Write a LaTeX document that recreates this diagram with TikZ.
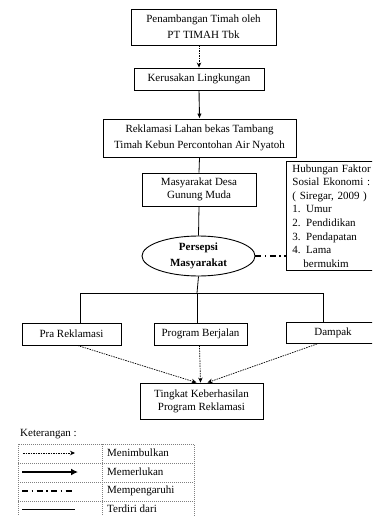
\documentclass[tikz,border=0pt]{standalone}
\usepackage{fontspec}
\setmainfont{Liberation Serif}
\usetikzlibrary{shapes.geometric,arrows.meta}

\tikzset{
	kotak/.style={draw, line width=0.9pt, align=center, inner sep=1pt, font=\fontsize{11}{14}\selectfont},
	timbul/.style={line width=0.7pt, dash pattern=on 1.5pt off 1pt, -{Stealth[length=5pt,width=4.5pt]}},
	perlu/.style={line width=0.9pt, -{Latex[length=5pt,width=4.5pt]}},
	pengaruh/.style={line width=1.5pt, dash pattern=on 6pt off 3.5pt on 1.5pt off 3.5pt},
	terdiri/.style={line width=0.8pt},
	garistabel/.style={gray, line width=0.6pt, dash pattern=on 1pt off 1pt}
}

\begin{document}
\begin{tikzpicture}[x=1pt, y=-1pt]
	\useasboundingbox (0,0) rectangle (372,516);
	\clip (0,0) rectangle (372,516);

	\node[kotak, minimum width=145pt, minimum height=36pt, font=\fontsize{11}{16}\selectfont] (tambang) at (203.5,27) {Penambangan Timah oleh\\PT TIMAH Tbk};
	\node[kotak, minimum width=130pt, minimum height=22pt] (rusak) at (199,79) {Kerusakan Lingkungan};
	\node[kotak, minimum width=193pt, minimum height=38pt, font=\fontsize{11}{16}\selectfont] (reklamasi) at (199.5,138) {Reklamasi Lahan bekas Tambang\\Timah Kebun Percontohan Air Nyatoh};
	\node[kotak, minimum width=114pt, minimum height=33pt, font=\fontsize{11}{13.5}\selectfont] (desa) at (199,189.5) {Masyarakat Desa\\Gunung Muda};
	\node[kotak, ellipse, minimum width=113pt, minimum height=40pt, inner sep=0pt, font=\fontsize{11}{16}\selectfont\bfseries] (persepsi) at (198.5,256) {Persepsi\\Masyarakat};
	\node[kotak, anchor=north west, align=left, text width=90pt, inner xsep=6pt, inner ysep=3pt, font=\fontsize{11}{13.6}\selectfont] (faktor) at (286,161) {Hubungan Faktor\\Sosial Ekonomi :\\( Siregar, 2009 )\\1. Umur\\2. Pendidikan\\3. Pendapatan\\4. Lama\\\hspace*{1em}bermukim};

	\node[kotak, minimum width=99pt, minimum height=22pt] (pra) at (71.5,334) {Pra Reklamasi};
	\node[kotak, minimum width=93pt, minimum height=22pt] (jalan) at (200.5,334) {Program Berjalan};
	\node[kotak, minimum width=94pt, minimum height=21pt] (dampak) at (333,333) {Dampak};
	\node[kotak, minimum width=123pt, minimum height=36pt, font=\fontsize{11}{13}\selectfont] (tingkat) at (201.5,401) {Tingkat Keberhasilan\\Program Reklamasi};

	\coordinate (kiri) at (80,293);
	\coordinate (cabang) at (197,293);
	\coordinate (kanan) at (323,293);

	\draw[timbul] (rusak |- tambang.south) -- (rusak.north);
	\draw[perlu] (rusak.south) -- (reklamasi.north);
	\draw[terdiri] (reklamasi.south) -- (desa.north);
	\draw[terdiri] (desa.south) -- (persepsi.north);
	\draw[pengaruh] (persepsi.east) -- (faktor.west |- persepsi.east);

	\draw[terdiri] (persepsi.south) -- (cabang);
	\draw[terdiri] (kiri) -- (kanan);
	\draw[terdiri] (kiri) -- (kiri |- pra.north);
	\draw[terdiri] (cabang) -- (cabang |- jalan.north);
	\draw[terdiri] (kanan) -- (kanan |- dampak.north);

	\draw[timbul] ([xshift=6pt]pra.south) -- ([xshift=-5pt]tingkat.north);
	\draw[timbul] ([xshift=-1pt]jalan.south) -- ([xshift=-1pt]tingkat.north);
	\draw[timbul] ([xshift=-16pt]dampak.south) -- ([xshift=6pt]tingkat.north);

	\node[anchor=west, inner sep=0pt, font=\fontsize{11}{13}\selectfont] (keterangan) at (20,434) {Keterangan :};
	\draw[garistabel] (18,444) rectangle (194,530);
	\draw[garistabel] (102,444) -- (102,530);
	\foreach \y in {463,482,501}
		\draw[garistabel] (18,\y) -- (194,\y);
	\foreach \y/\teks in {453/Menimbulkan, 472/Memerlukan, 491/Mempengaruhi, 509/Terdiri dari}
		\node[anchor=west, inner sep=0pt, font=\fontsize{11}{13}\selectfont] (ket\y) at (107,\y) {\teks};

	\draw[timbul] (23,453) -- (75,453);
	\draw[line width=2pt, -{Latex[length=7pt,width=7pt]}] (22,472) -- (78,472);
	\draw[pengaruh] (22,491) -- (75,491);
	\draw[terdiri] (22,509) -- (75,509);
\end{tikzpicture}
\end{document}
